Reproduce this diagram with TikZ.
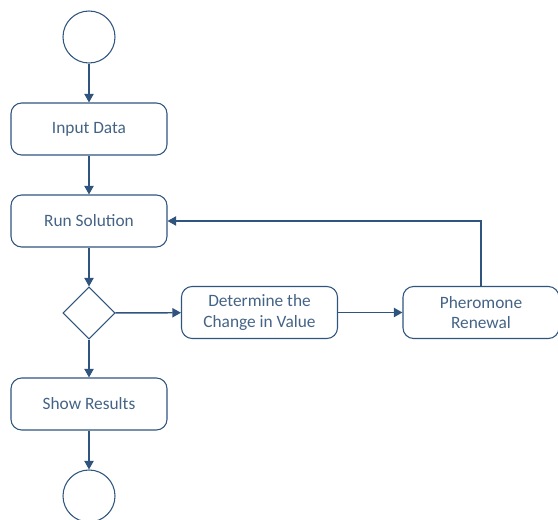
\documentclass[tikz,border=0pt]{standalone}
\usepackage{fontspec}
\setmainfont{Carlito}
\usetikzlibrary{arrows.meta,shapes.geometric}
\definecolor{flowline}{RGB}{47,84,126}
\definecolor{flowtext}{RGB}{68,99,133}

\begin{document}
\begin{tikzpicture}[%
x=0.75pt, y=-0.75pt,
box/.style={draw=flowline, line width=0.8pt, rounded corners=8pt, minimum width=117pt, minimum height=39pt, text=flowtext, align=center, font=\fontsize{13}{15.6}\selectfont, inner sep=0pt},
term/.style={draw=flowline, line width=0.8pt, circle, minimum size=39pt, inner sep=0pt},
choice/.style={draw=flowline, line width=0.8pt, diamond, minimum width=39pt, minimum height=39pt, inner sep=0pt},
flow/.style={draw=flowline, line width=1.1pt, -{Triangle[length=6.5pt,width=7pt]}},
]
\useasboundingbox (0,0) rectangle (558,520);
\clip (0,0) rectangle (558,520);
%% main column;
\node[term] (start) at (89,37) {};
\node[box] (input) at (89,129) {Input Data};
\node[box] (run) at (89,221) {Run Solution};
\node[choice] (check) at (89,313) {};
\node[box] (show) at (89,404) {Show Results};
\node[term] (stop) at (89,496) {};
%% side branch;
\node[box] (delta) at (259.5,312.5) {Determine the\\Change in Value};
\node[box] (renew) at (481,312.5) {Pheromone\\Renewal};
%% connectors;
\draw[flow] (start) -- (input);
\draw[flow] (input) -- (run);
\draw[flow] (run) -- (check);
\draw[flow] (check) -- (show);
\draw[flow] (show) -- (stop);
\draw[flow] (check) -- (delta);
\draw[flow] (delta) -- (renew);
\draw[flow] (renew.north) |- (run.east);
\end{tikzpicture}
\end{document}
